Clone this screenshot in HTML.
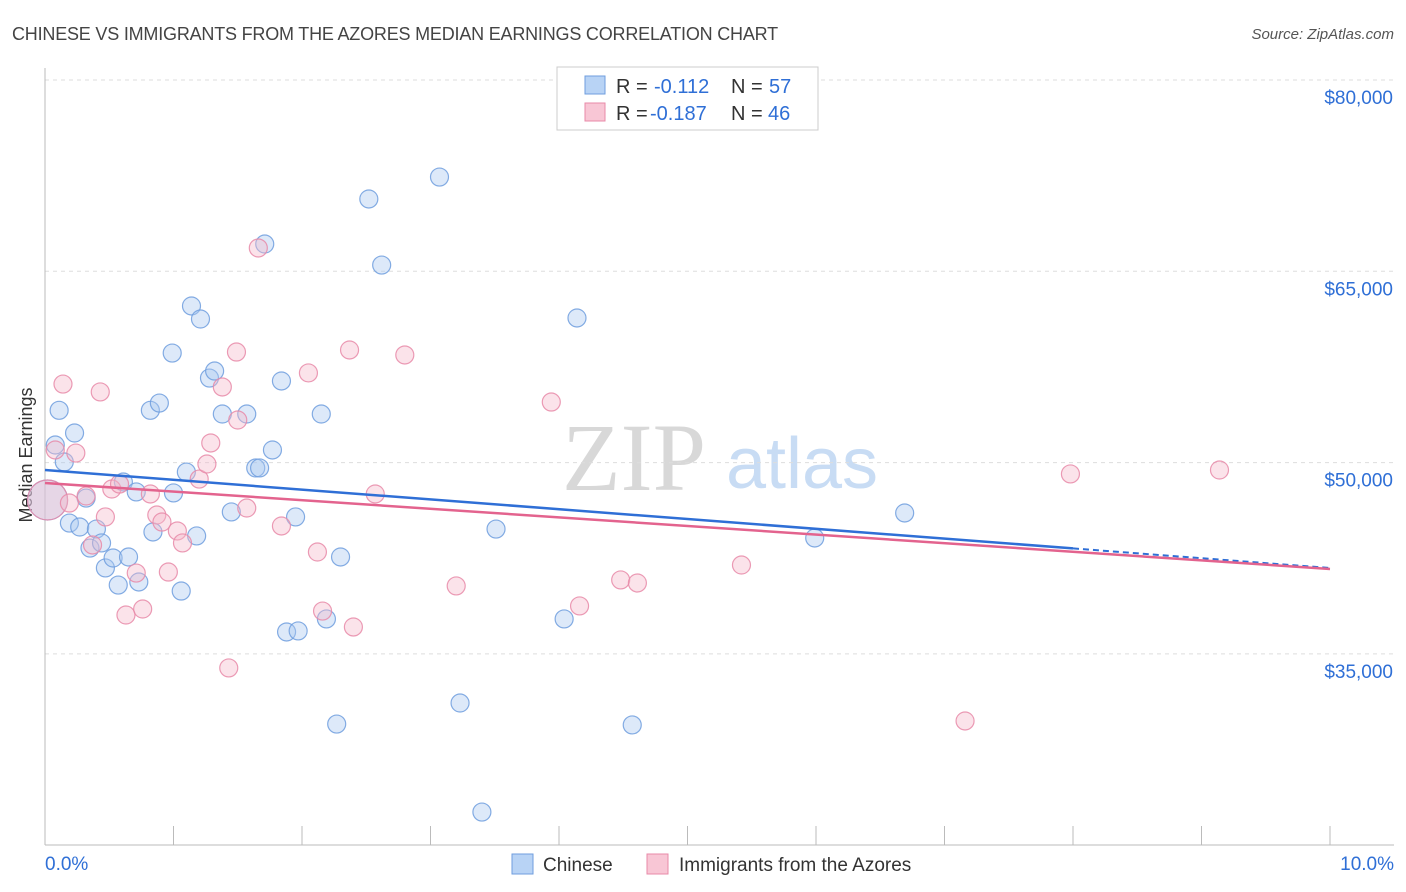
<!DOCTYPE html>
<html><head><meta charset="utf-8"><style>
body{margin:0;background:#fff;font-family:"Liberation Sans",sans-serif}
svg{display:block}
</style></head><body>
<svg id="chart" width="1406" height="892" viewBox="0 0 1406 892">
<text x="12" y="40" font-size="18" fill="#444" letter-spacing="-0.2">CHINESE VS IMMIGRANTS FROM THE AZORES MEDIAN EARNINGS CORRELATION CHART</text>
<text x="1394" y="39" font-size="15" fill="#555" text-anchor="end" font-style="italic">Source: ZipAtlas.com</text>
<text x="32" y="455" font-size="18" fill="#333" text-anchor="middle" transform="rotate(-90 32 455)">Median Earnings</text>
<g>
<text x="634" y="490" font-size="96" fill="#d8d8d8" font-family="Liberation Serif,serif" text-anchor="middle">ZIP</text>
<text x="802" y="488" font-size="72" fill="#c8dcf4" text-anchor="middle">atlas</text>
</g>
<g id="grid"></g><g id="axes"></g><g id="pts"></g><g id="trends"></g>
<g>
<rect x="557" y="67" width="261" height="63" fill="#fff" stroke="#ccc"/>
<rect x="585" y="76" width="20" height="18" fill="#b8d3f5" stroke="#6f9ede"/>
<rect x="585" y="103" width="20" height="18" fill="#f8c6d5" stroke="#e88aa8"/>
<text x="616" y="93" font-size="20" fill="#333">R =</text><text x="654" y="93" font-size="20" fill="#2f6fd6">-0.112</text>
<text x="731" y="93" font-size="20" fill="#333">N =</text><text x="769" y="93" font-size="20" fill="#2f6fd6">57</text>
<text x="616" y="120" font-size="20" fill="#333">R =</text><text x="650" y="120" font-size="20" fill="#2f6fd6">-0.187</text>
<text x="731" y="120" font-size="20" fill="#333">N =</text><text x="768" y="120" font-size="20" fill="#2f6fd6">46</text>
</g>
<g>
<rect x="512" y="854" width="21" height="20" fill="#b8d3f5" stroke="#6f9ede"/>
<text x="543" y="871" font-size="19" fill="#333">Chinese</text>
<rect x="647" y="854" width="21" height="20" fill="#f8c6d5" stroke="#e88aa8"/>
<text x="679" y="871" font-size="19" fill="#333">Immigrants from the Azores</text>
</g>
</svg>
<script>
const yTicks=[35000,50000,65000,80000];
const yTickLabels=["$35,000","$50,000","$65,000","$80,000"];
const xTickLabels=["0.0%","10.0%"];
const blueX=[0.02,0.08,0.11,0.15,0.23,0.19,0.27,0.32,0.35,0.40,0.44,0.47,0.53,0.57,0.61,0.65,0.71,0.73,0.82,0.84,0.89,0.99,1.00,1.06,1.10,1.14,1.18,1.21,1.28,1.32,1.38,1.45,1.57,1.64,1.67,1.71,1.77,1.84,1.88,1.95,1.97,2.15,2.19,2.27,2.30,2.52,2.62,3.07,3.23,3.40,3.51,4.04,4.14,4.57,5.99,6.69];
const blueY=[47070,51380,54100,50050,52320,45260,44950,47220,43300,44790,43700,41740,42520,40400,48480,42600,47700,40640,54100,44560,54670,58590,47620,39930,49260,62280,44250,61260,56630,57180,53810,46130,53810,49580,49580,67140,50990,56400,36720,45740,36800,53810,37740,29500,42600,70670,65490,72390,31150,22600,44790,37740,61340,29430,44090,46050];
const pinkX=[0.02,0.08,0.14,0.19,0.24,0.32,0.37,0.43,0.47,0.52,0.58,0.63,0.71,0.76,0.82,0.87,0.91,0.96,1.03,1.07,1.20,1.26,1.29,1.38,1.43,1.49,1.50,1.57,1.66,1.84,2.05,2.12,2.16,2.37,2.40,2.57,2.80,3.20,3.94,4.16,4.48,4.61,5.42,7.16,7.98,9.14];
const pinkY=[47070,50990,56160,46830,50750,47380,43540,55540,45740,47930,48320,38050,41340,38520,47540,45890,45340,41420,44640,43700,48710,49890,51540,55930,33900,58670,53340,46440,66830,45030,57030,42990,38360,58830,37110,47540,58440,40330,54750,38760,40800,40560,41970,29740,49110,49420];
const blueTrend=[49420,41735];
const pinkTrend=[48400,41660];
const NS="http://www.w3.org/2000/svg";
const sx=v=>45+v*128.5;
const sy=v=>80+(80000-v)/78.41;
function mk(tag,attrs,parent){const e=document.createElementNS(NS,tag);for(const k in attrs)e.setAttribute(k,attrs[k]);document.getElementById(parent).appendChild(e);return e;}
yTicks.forEach((t,i)=>{
 const l=mk('line',{x1:45,x2:1394,y1:sy(t),y2:sy(t),stroke:'#ddd','stroke-dasharray':'4,4'},'grid');
 
 
 const tx=mk('text',{x:1393,y:sy(t)+24,'font-size':19,fill:'#2f6fd6','text-anchor':'end'},'grid');
 tx.textContent=yTickLabels[i];
 
 
});
const ax=mk('line',{x1:45,x2:45,y1:68,y2:845,stroke:'#bbb'},'axes');


const bx=mk('line',{x1:45,x2:1394,y1:845,y2:845,stroke:'#bbb'},'axes');


for(let i=0;i<=10;i++){const t=mk('line',{x1:sx(i),x2:sx(i),y1:826,y2:845,stroke:'#bbb'},'axes');
 
 }
[[0,'start',45],[10,'end',1394]].forEach((d,i)=>{const t=mk('text',{x:d[2],y:870,'font-size':19,fill:'#2f6fd6','text-anchor':d[1]},'axes');t.textContent=xTickLabels[i];
 
 });
function pts(X,Y,fill,stroke,name){X.forEach((x,i)=>{const r=i===0?20:9;const c=mk('circle',{cx:sx(x),cy:sy(Y[i]),r:r,fill:fill,'fill-opacity':0.4,stroke:stroke,'stroke-opacity':0.85,'stroke-width':1.2},'pts');
 
 });}
pts(blueX,blueY,'#a9c8f0','#6f9ede','chinese-point');
pts(pinkX,pinkY,'#f5b8cb','#e88aa8','azores-point');
function trend(T,col,name,dash){
 const yAt=x=>T[0]+(T[1]-T[0])*x/10;
 const end=dash?8:10;
 const l=mk('line',{x1:sx(0),y1:sy(yAt(0)),x2:sx(end),y2:sy(yAt(end)),stroke:col,'stroke-width':2.5},'trends');
 
 
 if(dash){const d=mk('line',{x1:sx(8),y1:sy(yAt(8)),x2:sx(10),y2:sy(yAt(10)),stroke:col,'stroke-width':2,'stroke-dasharray':'6,4'},'trends');
 
 }
}
trend(blueTrend,'#2f6fd6','chinese-trend-line',true);
trend(pinkTrend,'#e3638e','azores-trend-line',false);
</script>
</body></html>
